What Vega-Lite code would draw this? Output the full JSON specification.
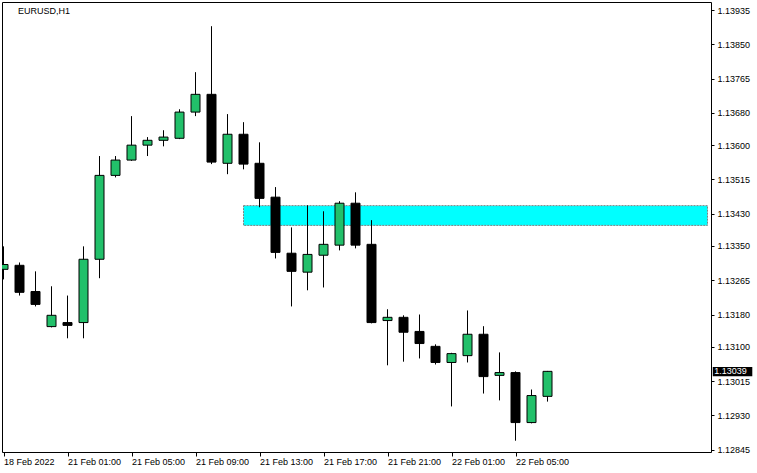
{
  "$schema": "https://vega.github.io/schema/vega-lite/v6.json",
  "width": 709,
  "height": 450,
  "autosize": {"type": "none"},
  "padding": {"left": 2, "top": 2, "right": 46, "bottom": 21},
  "background": "white",
  "view": {"stroke": "black", "strokeWidth": 1},
  "config": {
    "font": "Liberation Sans",
    "axis": {"labelFont": "Liberation Sans", "labelFontSize": 9, "labelColor": "black", "tickColor": "black", "domain": false, "grid": false, "title": null, "labelOverlap": false, "labelFlush": false, "labelBound": false}
  },
  "title": {"text": "EURUSD,H1", "anchor": "start", "frame": "group", "orient": "top", "offset": -14, "dx": 16, "fontSize": 9, "font": "Liberation Sans", "fontWeight": "normal", "color": "black"},
  "datasets": {
    "candles": [
      {"i": 0, "time": "18 Feb 21:00", "open": 1.13292, "high": 1.13349, "low": 1.13267, "close": 1.13304},
      {"i": 1, "time": "18 Feb 22:00", "open": 1.13302, "high": 1.13309, "low": 1.13227, "close": 1.13235},
      {"i": 2, "time": "18 Feb 23:00", "open": 1.13237, "high": 1.13287, "low": 1.13200, "close": 1.13205},
      {"i": 3, "time": "21 Feb 00:00", "open": 1.13150, "high": 1.13250, "low": 1.13148, "close": 1.13178},
      {"i": 4, "time": "21 Feb 01:00", "open": 1.13160, "high": 1.13227, "low": 1.13121, "close": 1.13153},
      {"i": 5, "time": "21 Feb 02:00", "open": 1.13160, "high": 1.13349, "low": 1.13121, "close": 1.13317},
      {"i": 6, "time": "21 Feb 03:00", "open": 1.13317, "high": 1.13573, "low": 1.13270, "close": 1.13525},
      {"i": 7, "time": "21 Feb 04:00", "open": 1.13525, "high": 1.13573, "low": 1.13520, "close": 1.13563},
      {"i": 8, "time": "21 Feb 05:00", "open": 1.13563, "high": 1.13672, "low": 1.13561, "close": 1.13600},
      {"i": 9, "time": "21 Feb 06:00", "open": 1.13600, "high": 1.13620, "low": 1.13573, "close": 1.13612},
      {"i": 10, "time": "21 Feb 07:00", "open": 1.13612, "high": 1.13637, "low": 1.13597, "close": 1.13620},
      {"i": 11, "time": "21 Feb 08:00", "open": 1.13617, "high": 1.13689, "low": 1.13615, "close": 1.13682},
      {"i": 12, "time": "21 Feb 09:00", "open": 1.13682, "high": 1.13781, "low": 1.13672, "close": 1.13726},
      {"i": 13, "time": "21 Feb 10:00", "open": 1.13726, "high": 1.13895, "low": 1.13553, "close": 1.13558},
      {"i": 14, "time": "21 Feb 11:00", "open": 1.13555, "high": 1.13677, "low": 1.13528, "close": 1.13627},
      {"i": 15, "time": "21 Feb 12:00", "open": 1.13627, "high": 1.13657, "low": 1.13540, "close": 1.13553},
      {"i": 16, "time": "21 Feb 13:00", "open": 1.13555, "high": 1.13607, "low": 1.13446, "close": 1.13468},
      {"i": 17, "time": "21 Feb 14:00", "open": 1.13471, "high": 1.13496, "low": 1.13319, "close": 1.13334},
      {"i": 18, "time": "21 Feb 15:00", "open": 1.13332, "high": 1.13396, "low": 1.13200, "close": 1.13287},
      {"i": 19, "time": "21 Feb 16:00", "open": 1.13285, "high": 1.13451, "low": 1.13240, "close": 1.13329},
      {"i": 20, "time": "21 Feb 17:00", "open": 1.13327, "high": 1.13436, "low": 1.13247, "close": 1.13354},
      {"i": 21, "time": "21 Feb 18:00", "open": 1.13352, "high": 1.13461, "low": 1.13339, "close": 1.13456},
      {"i": 22, "time": "21 Feb 19:00", "open": 1.13456, "high": 1.13483, "low": 1.13344, "close": 1.13352},
      {"i": 23, "time": "21 Feb 20:00", "open": 1.13354, "high": 1.13414, "low": 1.13158, "close": 1.13160},
      {"i": 24, "time": "21 Feb 21:00", "open": 1.13165, "high": 1.13193, "low": 1.13054, "close": 1.13173},
      {"i": 25, "time": "21 Feb 22:00", "open": 1.13173, "high": 1.13178, "low": 1.13063, "close": 1.13136},
      {"i": 26, "time": "21 Feb 23:00", "open": 1.13138, "high": 1.13180, "low": 1.13071, "close": 1.13108},
      {"i": 27, "time": "22 Feb 00:00", "open": 1.13101, "high": 1.13106, "low": 1.13056, "close": 1.13061},
      {"i": 28, "time": "22 Feb 01:00", "open": 1.13061, "high": 1.13085, "low": 1.12952, "close": 1.13083},
      {"i": 29, "time": "22 Feb 02:00", "open": 1.13078, "high": 1.13190, "low": 1.13061, "close": 1.13131},
      {"i": 30, "time": "22 Feb 03:00", "open": 1.13131, "high": 1.13151, "low": 1.12984, "close": 1.13026},
      {"i": 31, "time": "22 Feb 04:00", "open": 1.13029, "high": 1.13086, "low": 1.12967, "close": 1.13036},
      {"i": 32, "time": "22 Feb 05:00", "open": 1.13036, "high": 1.13039, "low": 1.12867, "close": 1.12912},
      {"i": 33, "time": "22 Feb 06:00", "open": 1.12912, "high": 1.12994, "low": 1.12910, "close": 1.12979},
      {"i": 34, "time": "22 Feb 07:00", "open": 1.12977, "high": 1.13040, "low": 1.12964, "close": 1.13039}
    ],
    "zone": [{"from": 15, "to": 44, "top": 1.13450, "bottom": 1.13401}],
    "pricebox": [{"from": 44.33, "to": 46.8, "top": 1.13050, "bottom": 1.13027, "textx": 44.42, "price": 1.13039, "label": "1.13039"}]
  },
  "encoding": {
    "x": {
      "field": "i", "type": "quantitative",
      "scale": {"domain": [-0.09375, 44.21875], "nice": false, "zero": false, "padding": 0},
      "axis": {
        "orient": "bottom",
        "values": [0, 4, 8, 12, 16, 20, 24, 28, 32],
        "labelExpr": "({'0': '18 Feb 2022', '4': '21 Feb 01:00', '8': '21 Feb 05:00', '12': '21 Feb 09:00', '16': '21 Feb 13:00', '20': '21 Feb 17:00', '24': '21 Feb 21:00', '28': '22 Feb 01:00', '32': '22 Feb 05:00'})[datum.value]",
        "labelAlign": "left",
        "labelBaseline": "top",
        "tickSize": 4,
        "labelPadding": 1
      }
    },
    "y": {
      "field": "high", "type": "quantitative",
      "scale": {"domain": [1.12839, 1.13955], "nice": false, "zero": false, "padding": 0},
      "axis": {
        "orient": "right",
        "values": [1.13935, 1.1385, 1.13765, 1.1368, 1.136, 1.13515, 1.1343, 1.1335, 1.13265, 1.1318, 1.131, 1.13015, 1.1293, 1.12845],
        "format": ".5f",
        "tickSize": 3,
        "labelPadding": 3
      }
    }
  },
  "layer": [
    {
      "data": {"name": "zone"},
      "mark": {"type": "rect", "fill": "#00FFFF", "stroke": "#808080", "strokeWidth": 1, "strokeDash": [2, 1], "clip": true},
      "encoding": {
        "x": {"field": "from", "type": "quantitative"},
        "x2": {"field": "to"},
        "y": {"field": "top", "type": "quantitative"},
        "y2": {"field": "bottom"}
      }
    },
    {
      "data": {"name": "candles"},
      "mark": {"type": "rule", "color": "black", "strokeWidth": 1, "clip": true},
      "encoding": {
        "y": {"field": "high", "type": "quantitative"},
        "y2": {"field": "low"}
      }
    },
    {
      "data": {"name": "candles"},
      "mark": {"type": "bar", "orient": "vertical", "size": 9, "stroke": "black", "strokeWidth": 1, "clip": true},
      "encoding": {
        "y": {"field": "open", "type": "quantitative"},
        "y2": {"field": "close"},
        "fill": {
          "condition": {"test": "datum.close >= datum.open", "value": "#22C06A"},
          "value": "black"
        }
      }
    },
    {
      "data": {"name": "pricebox"},
      "mark": {"type": "rect", "fill": "black", "clip": false},
      "encoding": {
        "x": {"field": "from", "type": "quantitative"},
        "x2": {"field": "to"},
        "y": {"field": "top", "type": "quantitative"},
        "y2": {"field": "bottom"}
      }
    },
    {
      "data": {"name": "pricebox"},
      "mark": {"type": "text", "color": "white", "align": "left", "baseline": "middle", "font": "Liberation Sans", "fontSize": 9, "clip": false},
      "encoding": {
        "x": {"field": "textx", "type": "quantitative"},
        "y": {"field": "price", "type": "quantitative"},
        "text": {"field": "label"}
      }
    }
  ]
}
